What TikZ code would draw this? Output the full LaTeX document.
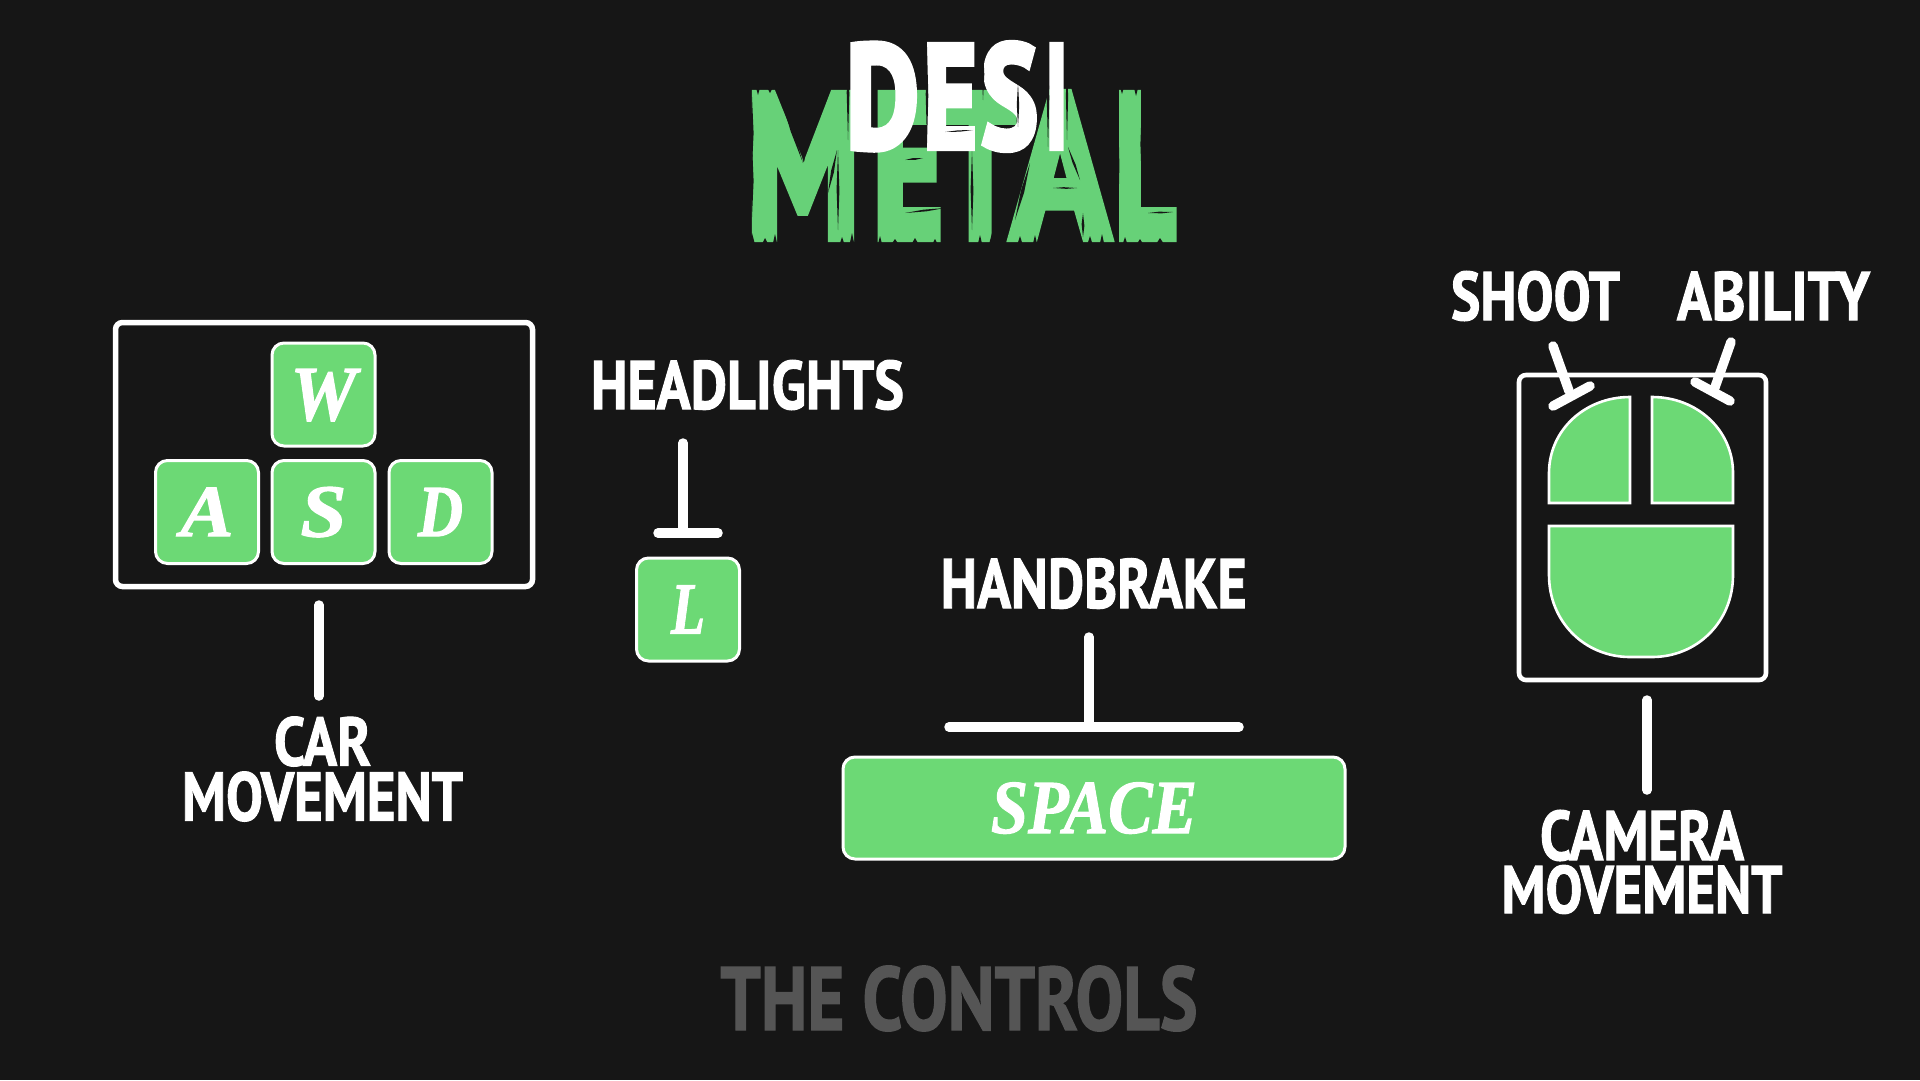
\documentclass[tikz,border=0pt]{standalone}
\usepackage{fontspec}
\usepackage{graphicx}
\newfontfamily\labelfont{PT Sans}[BoldFeatures={FakeBold=1.6}]
\newfontfamily\titlefont{PT Sans}[BoldFeatures={FakeBold=5}]
\newfontfamily\keyfont{Liberation Serif}[BoldItalicFeatures={FakeBold=1.5}]
\definecolor{bgc}{HTML}{161616}
\definecolor{keygreen}{HTML}{6CD975}
\definecolor{titlegreen}{HTML}{67D178}
\definecolor{dimtext}{HTML}{555555}
\newcommand{\fitlabel}[3]{\resizebox{#1pt}{#2pt}{\labelfont\bfseries\fontsize{40}{40}\selectfont\vphantom{H}\smash{#3}}}
\newcommand{\fitkey}[3]{\resizebox{#1pt}{#2pt}{\keyfont\bfseries\itshape\fontsize{40}{40}\selectfont\vphantom{H}\smash{#3}}}
\newcommand{\fittitle}[3]{\resizebox{#1pt}{#2pt}{\titlefont\bfseries\fontsize{40}{40}\selectfont\vphantom{H}\smash{#3}}}
\tikzset{
  txt/.style={inner sep=0pt,outer sep=0pt,text=white},
  twoline/.style={txt,align=center,font=\fontsize{10}{#1}\selectfont},
  frame/.style={draw=white,fill=bgc,rounded corners=7pt},
  keycap/.style={draw=white,line width=3pt,fill=keygreen,rounded corners=12pt,inner sep=0pt,minimum width=103pt,minimum height=103pt,text=white},
  mousepart/.style={draw=white,line width=2.6pt,fill=keygreen},
  conn/.style={draw=white,line width=9.5pt,line cap=round},
}
\begin{document}
\begin{tikzpicture}[x=1pt,y=-1pt]
\useasboundingbox (0,0) rectangle (1920,1080);
\fill[bgc] (0,0) rectangle (1920,1080);
% title
\node[txt,text=titlegreen] (metal) at (961,166) {\fittitle{112}{142}{M}\hspace{14pt}\fittitle{70}{142}{E}\hspace{2pt}\fittitle{70}{142}{T}\hspace{-3pt}\fittitle{97}{142}{A}\hspace{6pt}\fittitle{60}{142}{L}};
% brush streaks and ragged ends of METAL
\foreach \xa/\ya/\xb/\yb/\w in {752/97/752/167/1.6, 752/143/752/217/1.6, 782/102/803/163/1.8, 837/150/828/193/1.4, 838/150/838/230/1.4, 863/207/863/230/1.4, 875/110/875/227/1.6, 905/160/923/158/1.4, 905/213/945/208/1.4, 972/150/972/230/1.4, 997/213/997/230/1.4, 1068/147/1080/180/1.6, 1053/188/1077/188/1.4, 1083/213/1083/237/1.4, 1030/163/1015/220/1.6, 1142/100/1142/190/1.6, 1148/213/1173/212/1.4, 1118/103/1118/227/1.4}
  \fill[bgc] (\xa,\ya) -- ({(\xa+\xb)/2+\w},{(\ya+\yb)/2+.6*\w}) -- (\xb,\yb) -- ({(\xa+\xb)/2-\w},{(\ya+\yb)/2-.6*\w}) -- cycle;
\foreach \x/\h/\w in {752/10/5,765/5/7,775/9/4,842/6/5,852/10/4,863/6/6,880/7/4,895/4/9,915/5/8,935/4/7,980/8/4,992/10/5,1020/7/5,1035/8/4,1090/7/5,1102/9/4,1125/6/5,1140/4/8,1160/5/9}
  \fill[bgc] (\x,{243-\h}) -- ({\x+\w},252) -- ({\x-\w},252) -- cycle;
\foreach \x/\h/\w in {758/5/4,770/3/7,1085/5/6,1122/4/4,1136/6/4,1150/4/5}
  \fill[bgc] (\x,{90+\h}) -- ({\x+\w},80) -- ({\x-\w},80) -- cycle;
\node[txt] (desi) at (957,96.5) {\fittitle{72}{102}{D}\hspace{5pt}\fittitle{53}{102}{E}\hspace{5pt}\fittitle{56}{102}{S}\hspace{8pt}\fittitle{22}{102}{I}};
% brush streaks and ragged ends of DESI
\foreach \xa/\ya/\xb/\yb/\w in {848/47/848/140/1.3, 927/47/927/143/1.3, 945/132/973/130/1.1, 983/47/983/100/1.3, 1018/83/1018/127/1.2, 1048/47/1048/147/1.3, 1067/53/1067/140/1.1}
  \fill[bgc] (\xa,\ya) -- ({(\xa+\xb)/2+\w},{(\ya+\yb)/2+.6*\w}) -- (\xb,\yb) -- ({(\xa+\xb)/2-\w},{(\ya+\yb)/2-.6*\w}) -- cycle;
% WASD
\node[frame,line width=5.5pt,minimum width=417pt,minimum height=264pt,inner sep=0pt] (wasd) at (324,454.5) {};
\node[keycap] (w) at (323.5,394.5) {\fitkey{66}{51}{W}};
\node[keycap] (a) at (207,512) {\fitkey{53}{48}{A}};
\node[keycap] (s) at (323.5,512) {\fitkey{46}{49}{S}};
\node[keycap] (d) at (440.5,512) {\fitkey{45}{48}{D}};
\coordinate (wasdTop) at (319,605);
\coordinate (wasdBot) at (319,696);
\draw[conn] (wasdTop) -- (wasdBot);
\node[twoline=55pt] (carmove) at (322.5,769) {\fitlabel{97}{48}{CAR}\\\fitlabel{281}{48}{MOVEMENT}};
% L
\node[txt] (headlights) at (747.5,385) {\fitlabel{313}{48}{HEADLIGHTS}};
\coordinate (hlTop) at (683,443);
\coordinate (hlMid) at (683,533);
\coordinate (hlLeft) at (658,533);
\coordinate (hlRight) at (718,533);
\draw[conn] (hlTop) -- (hlMid);
\draw[conn] (hlLeft) -- (hlRight);
\node[keycap] (l) at (688,609.5) {\fitkey{34}{48}{L}};
% Space
\node[txt] (handbrake) at (1093.7,583.5) {\fitlabel{306}{49}{HANDBRAKE}};
\coordinate (hbTop) at (1089,637);
\coordinate (hbMid) at (1089,727);
\coordinate (hbLeft) at (949,727);
\coordinate (hbRight) at (1239,727);
\draw[conn] (hbTop) -- (hbMid);
\draw[conn] (hbLeft) -- (hbRight);
\node[keycap,minimum width=502pt,minimum height=102pt] (space) at (1094,808) {\fitkey{206}{50}{SPACE}};
% Mouse
\node[frame,line width=4.6pt,minimum width=247pt,minimum height=305pt,inner sep=0pt] (mousebox) at (1642.5,527.5) {};
\draw[mousepart] (1549,503) -- (1549,473) .. controls (1549,430) and (1585,397) .. (1630,397) -- (1630,503) -- cycle;
\draw[mousepart] (1733,503) -- (1733,473) .. controls (1733,430) and (1697,397) .. (1652,397) -- (1652,503) -- cycle;
\draw[mousepart] (1549,526) -- (1549,575) .. controls (1549,622) and (1585,657) .. (1630,657) -- (1652,657) .. controls (1697,657) and (1733,622) .. (1733,575) -- (1733,526) -- cycle;
\node[txt] (shoot) at (1535.5,296) {\fitlabel{169}{48}{SHOOT}};
\node[txt] (ability) at (1773.5,296) {\fitlabel{193}{48}{ABILITY}};
\coordinate (shTop) at (1553,346);
\coordinate (shMid) at (1569,391);
\coordinate (shLeft) at (1553,406);
\coordinate (shRight) at (1590,386);
\draw[conn] (shTop) -- (shMid);
\draw[conn] (shLeft) -- (shRight);
\coordinate (abTop) at (1731,342);
\coordinate (abMid) at (1714,390);
\coordinate (abLeft) at (1695,382);
\coordinate (abRight) at (1730,401);
\draw[conn] (abTop) -- (abMid);
\draw[conn] (abLeft) -- (abRight);
\coordinate (mbTop) at (1647,700);
\coordinate (mbBot) at (1647,790);
\draw[conn] (mbTop) -- (mbBot);
\node[twoline=53pt] (cammove) at (1642,862) {\fitlabel{204}{49}{CAMERA}\\\fitlabel{281}{47}{MOVEMENT}};
% footer
\node[txt,text=dimtext] (controls) at (959,998.5) {\fitlabel{477}{63}{THE CONTROLS}};
\end{tikzpicture}
\end{document}
